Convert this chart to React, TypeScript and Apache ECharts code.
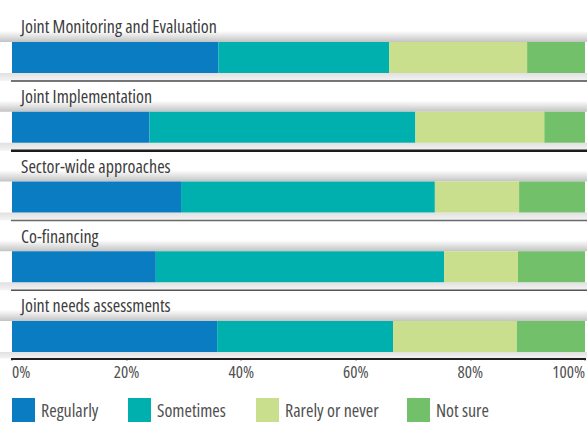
import React, { useEffect, useRef } from "react";
import * as echarts from "echarts";

const categories = [
  "Joint Monitoring and Evaluation",
  "Joint Implementation",
  "Sector-wide approaches",
  "Co-financing",
  "Joint needs assessments",
];
const seriesNames = ["Regularly", "Sometimes", "Rarely or never", "Not sure"];
const regularly = [36.0, 24.0, 29.5, 25.1, 35.8];
const sometimes = [29.8, 46.4, 44.3, 50.3, 30.7];
const rarelyOrNever = [24.1, 22.5, 14.7, 12.9, 21.6];
const notSure = [10.1, 7.1, 11.5, 11.7, 11.9];
const xTicks = [0, 20, 40, 60, 80, 100];

const COLORS = ["#0a7cc1", "#00b0ae", "#c9df8e", "#72c069"];
// Open Sans is a variable font with a width axis: ask for its condensed width.
const FONT = "'Open Sans'; font-stretch: condensed";
const BAR = 31;
const SEP_COLORS = ["#4a4a4a", "#1c1c1c", "#6a6a6a", "#555555"];
const SEP_WIDTHS = [1.5, 2.5, 1.5, 1.5];

const vGrad = (stops: [number, string][]) => ({
  type: "linear",
  x: 0,
  y: 0,
  x2: 0,
  y2: 1,
  colorStops: stops.map(([offset, color]) => ({ offset, color })),
});

export default function App() {
  const ref = useRef<HTMLDivElement>(null);

  useEffect(() => {
    const chart = echarts.init(ref.current!, null, {
      renderer: "svg",
      width: 587,
      height: 422,
    });
    const values = [regularly, sometimes, rarelyOrNever, notSure];
    const legendLefts = [12, 128, 256, 407];

    chart.setOption({
      animation: false,
      backgroundColor: "#ffffff",
      grid: {
        left: 12,
        right: 2,
        top: 22.5,
        height: 348.75,
        containLabel: false,
        outerBoundsMode: "none",
      },
      xAxis: {
        type: "value",
        min: xTicks[0],
        max: xTicks[xTicks.length - 1],
        interval: 20,
        offset: -13,
        axisLine: { show: true, lineStyle: { color: "#231f20", width: 2 } },
        axisTick: { show: true, length: 2, lineStyle: { color: "#231f20", width: 2 } },
        splitLine: { show: false },
        axisLabel: {
          formatter: "{value}%",
          margin: 8,
          fontSize: 17,
          fontFamily: FONT,
          color: "#505050",
          alignMinLabel: "left",
          alignMaxLabel: "right",
        },
      },
      yAxis: {
        type: "category",
        data: categories,
        inverse: true,
        axisLine: { show: false },
        axisTick: { show: false },
        splitLine: { show: false },
        axisLabel: {
          show: true,
          inside: true,
          interval: 0,
          margin: 9,
          align: "left",
          verticalAlign: "bottom",
          lineHeight: 62,
          fontSize: 18,
          fontFamily: FONT,
          color: "#3c3c3c",
        },
      },
      legend: seriesNames.map((n, i) => ({
        data: [n],
        left: legendLefts[i],
        top: 398,
        padding: 0,
        itemGap: 0,
        itemWidth: 23,
        itemHeight: 24,
        icon: "rect",
        selectedMode: false,
        textStyle: {
          fontSize: 18,
          fontFamily: FONT,
          color: "#505050",
          padding: [6, 0, 0, 1],
        },
      })),
      series: seriesNames.map((n, i) => ({
        name: n,
        type: "bar",
        stack: "total",
        barWidth: BAR,
        data: values[i],
        itemStyle: { color: COLORS[i] },
      })),
    });

    // Decorative row panels, placed from the category axis.
    const tops = categories.map(
      (c) => (chart.convertToPixel({ yAxisIndex: 0 }, c) as number) - BAR / 2
    );
    const axisY = tops[tops.length - 1] + BAR + 6.5;
    const seps = tops.map((t) => t + BAR + 8);
    const graphics: any[] = [];
    tops.forEach((t, i) => {
      const prev = i === 0 ? 0 : seps[i - 1] + 1;
      const h = t - prev;
      graphics.push({
        type: "rect",
        silent: true,
        z: 0,
        shape: { x: 0, y: prev, width: 587, height: h },
        style: {
          fill: vGrad([
            [0, "#ffffff"],
            [Math.max(0, 1 - 11 / h), "#ffffff"],
            [1, "#c4c4c4"],
          ]),
        },
      });
      const bottomEnd = i < 4 ? seps[i] : axisY;
      graphics.push({
        type: "rect",
        silent: true,
        z: 0,
        shape: { x: 0, y: t + BAR, width: 587, height: bottomEnd - (t + BAR) },
        style: {
          fill: vGrad([
            [0, "#e0e0e0"],
            [1, "#f4f4f4"],
          ]),
        },
      });
      if (i < 4) {
        graphics.push({
          type: "line",
          silent: true,
          z: 1,
          shape: { x1: 11, y1: seps[i], x2: 587, y2: seps[i] },
          style: { stroke: SEP_COLORS[i], lineWidth: SEP_WIDTHS[i] },
        });
      }
    });
    chart.setOption({ graphic: graphics });

    return () => chart.dispose();
  }, []);

  return (
    <div
      ref={ref}
      style={{ position: "fixed", left: 0, top: 0, width: 587, height: 422, background: "#fff" }}
    />
  );
}
